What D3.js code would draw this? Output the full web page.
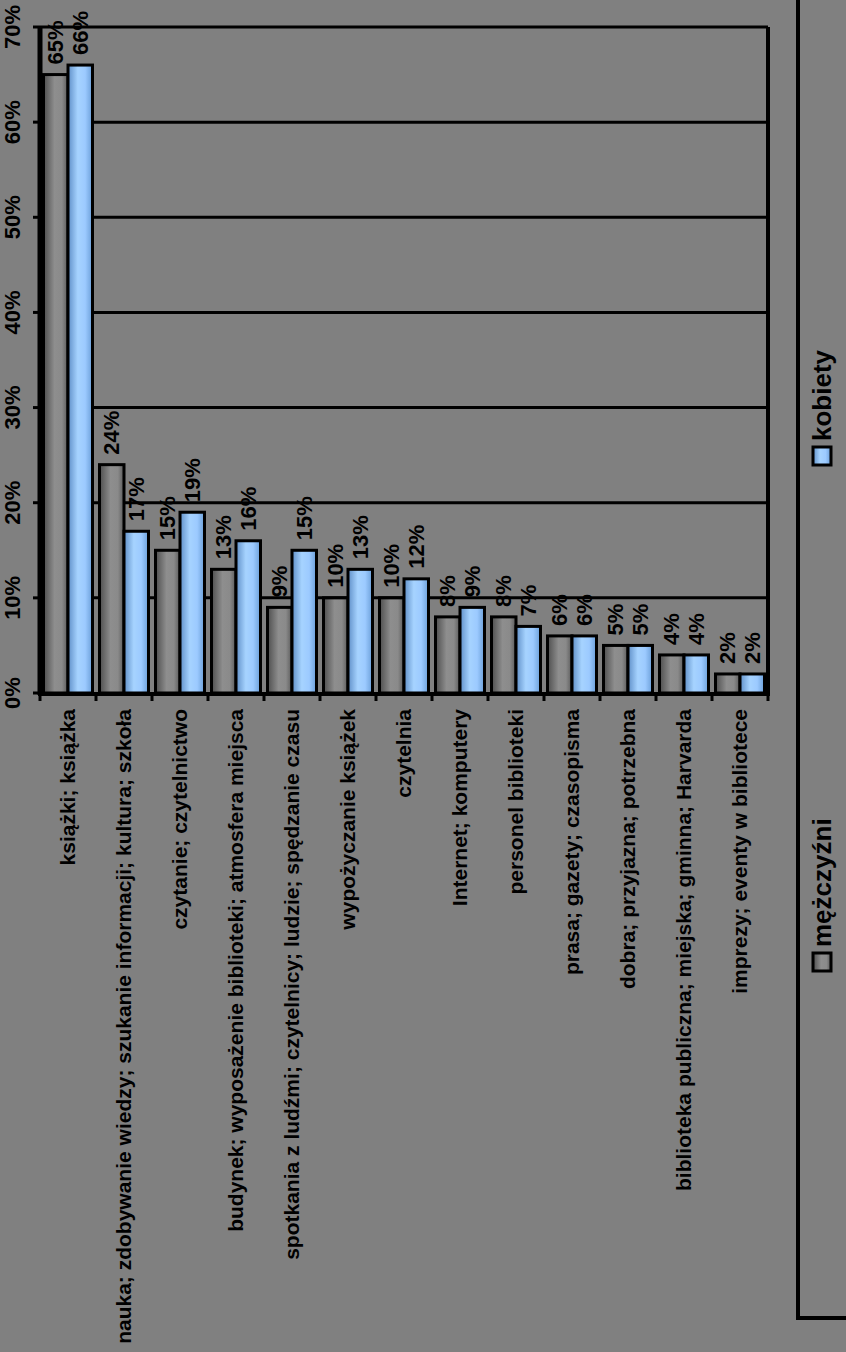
<!DOCTYPE html>
<html>
<head>
<meta charset="utf-8">
<script src="https://cdn.jsdelivr.net/npm/d3@7"></script>
<style>
  html, body { margin: 0; padding: 0; background: #808080; }
  svg { display: block; }
  text { font-family: "Liberation Sans", Arial, sans-serif; font-weight: bold; fill: #000; }
</style>
</head>
<body>
<svg id="chart" width="846" height="1352"></svg>
<script>
const categories = [
  "książki; książka",
  "nauka; zdobywanie wiedzy; szukanie informacji; kultura; szkoła",
  "czytanie; czytelnictwo",
  "budynek; wyposażenie biblioteki; atmosfera miejsca",
  "spotkania z ludźmi; czytelnicy; ludzie; spędzanie czasu",
  "wypożyczanie książek",
  "czytelnia",
  "Internet; komputery",
  "personel biblioteki",
  "prasa; gazety; czasopisma",
  "dobra; przyjazna; potrzebna",
  "biblioteka publiczna; miejska; gminna; Harvarda",
  "imprezy; eventy w bibliotece"
];
const seriesNames = ["mężczyźni", "kobiety"];
const men   = [65, 24, 15, 13, 9, 10, 10, 8, 8, 6, 5, 4, 2];
const women = [66, 17, 19, 16, 15, 13, 12, 9, 7, 6, 5, 4, 2];
const valueTicks = [0, 10, 20, 30, 40, 50, 60, 70];

const svg = d3.select("#chart");
const W = 846, H = 1352;
const plot = { left: 40, right: 768, top: 27, bottom: 693 };

const defs = svg.append("defs");
const gGray = defs.append("linearGradient").attr("id", "gradGray").attr("x1", "0").attr("x2", "1").attr("y1", "0").attr("y2", "0");
[["0%", "#4e4e4e"], ["45%", "#8e8e8e"], ["75%", "#8a8a8a"], ["100%", "#5a5a5a"]].forEach(s => gGray.append("stop").attr("offset", s[0]).attr("stop-color", s[1]));
const gBlue = defs.append("linearGradient").attr("id", "gradBlue").attr("x1", "0").attr("x2", "1").attr("y1", "0").attr("y2", "0");
[["0%", "#5f8fc8"], ["40%", "#a6d3ff"], ["70%", "#9ccaff"], ["100%", "#6a9ed8"]].forEach(s => gBlue.append("stop").attr("offset", s[0]).attr("stop-color", s[1]));
const fills = ["url(#gradGray)", "url(#gradBlue)"];

svg.append("rect").attr("width", W).attr("height", H).attr("fill", "#808080");

const x = d3.scaleBand().domain(categories).range([plot.left, plot.right]).paddingInner(0.125).paddingOuter(0.0625);
const x1 = d3.scaleBand().domain(seriesNames).range([0, x.bandwidth()]);
const y = d3.scaleLinear().domain([0, 70]).range([plot.bottom, plot.top]);

// gridlines
svg.append("g").selectAll("line").data(valueTicks.slice(1)).join("line")
  .attr("x1", plot.left).attr("x2", plot.right)
  .attr("y1", d => y(d)).attr("y2", d => y(d))
  .attr("stroke", "#000").attr("stroke-width", 3);

// right plot border
svg.append("line").attr("x1", plot.right).attr("x2", plot.right)
  .attr("y1", y(70)).attr("y2", y(0)).attr("stroke", "#000").attr("stroke-width", 4);

// bars
const data = categories.map((c, i) => ({ c, vals: [men[i], women[i]] }));
const groups = svg.append("g").selectAll("g").data(data).join("g")
  .attr("transform", d => `translate(${x(d.c)},0)`);
groups.selectAll("rect").data(d => d.vals.map((v, k) => ({ v, k }))).join("rect")
  .attr("x", d => x1(seriesNames[d.k]))
  .attr("width", x1.bandwidth())
  .attr("y", d => y(d.v))
  .attr("height", d => y(0) - y(d.v))
  .attr("fill", d => fills[d.k])
  .attr("stroke", "#000").attr("stroke-width", 3);

// data labels
groups.selectAll("text").data(d => d.vals.map((v, k) => ({ v, k }))).join("text")
  .attr("transform", d => `translate(${x1(seriesNames[d.k]) + x1.bandwidth() / 2},${y(d.v) - 10}) rotate(-90)`)
  .attr("dy", "0.35em")
  .attr("text-anchor", "start")
  .style("font-size", "22px")
  .text(d => d.v + "%");

// value axis (left)
svg.append("line").attr("x1", plot.left).attr("x2", plot.left)
  .attr("y1", y(70)).attr("y2", y(0) + 2).attr("stroke", "#000").attr("stroke-width", 5);
svg.append("g").selectAll("line").data(valueTicks).join("line")
  .attr("x1", plot.left - 7).attr("x2", plot.left)
  .attr("y1", d => y(d)).attr("y2", d => y(d))
  .attr("stroke", "#000").attr("stroke-width", 3);
svg.append("g").selectAll("text").data(valueTicks).join("text")
  .attr("transform", d => `translate(12,${y(d)}) rotate(-90)`)
  .attr("dy", "0.35em")
  .attr("text-anchor", "middle")
  .style("font-size", "22px")
  .text(d => d + "%");

// category axis (bottom)
svg.append("line").attr("x1", plot.left - 2).attr("x2", plot.right + 2)
  .attr("y1", y(0) + 1).attr("y2", y(0) + 1).attr("stroke", "#000").attr("stroke-width", 4);
const step = x.step();
const boundaries = categories.map(c => x(c) - (step - x.bandwidth()) / 2).concat([plot.right]);
svg.append("g").selectAll("line").data(boundaries).join("line")
  .attr("x1", d => d).attr("x2", d => d)
  .attr("y1", y(0)).attr("y2", y(0) + 8)
  .attr("stroke", "#000").attr("stroke-width", 3);
svg.append("g").selectAll("text").data(categories).join("text")
  .attr("transform", d => `translate(${x(d) + x.bandwidth() / 2},${y(0) + 16}) rotate(-90)`)
  .attr("dy", "0.35em")
  .attr("text-anchor", "end")
  .style("font-size", "21px")
  .text(d => d);

// legend box
svg.append("rect").attr("x", 798).attr("y", -10).attr("width", 120).attr("height", 1328)
  .attr("fill", "none").attr("stroke", "#000").attr("stroke-width", 4);
const legendY = { "kobiety": 456, "mężczyźni": 962 };
const lg = svg.append("g").selectAll("g").data(seriesNames).join("g")
  .attr("transform", d => `translate(822,${legendY[d]})`);
lg.append("rect").attr("x", -9).attr("y", -9).attr("width", 18).attr("height", 18)
  .attr("fill", (d, i) => fills[i]).attr("stroke", "#000").attr("stroke-width", 3);
lg.append("text").attr("transform", "translate(0,-15) rotate(-90)")
  .attr("dy", "0.35em").attr("text-anchor", "start")
  .style("font-size", "26px")
  .text(d => d);
</script>
</body>
</html>
